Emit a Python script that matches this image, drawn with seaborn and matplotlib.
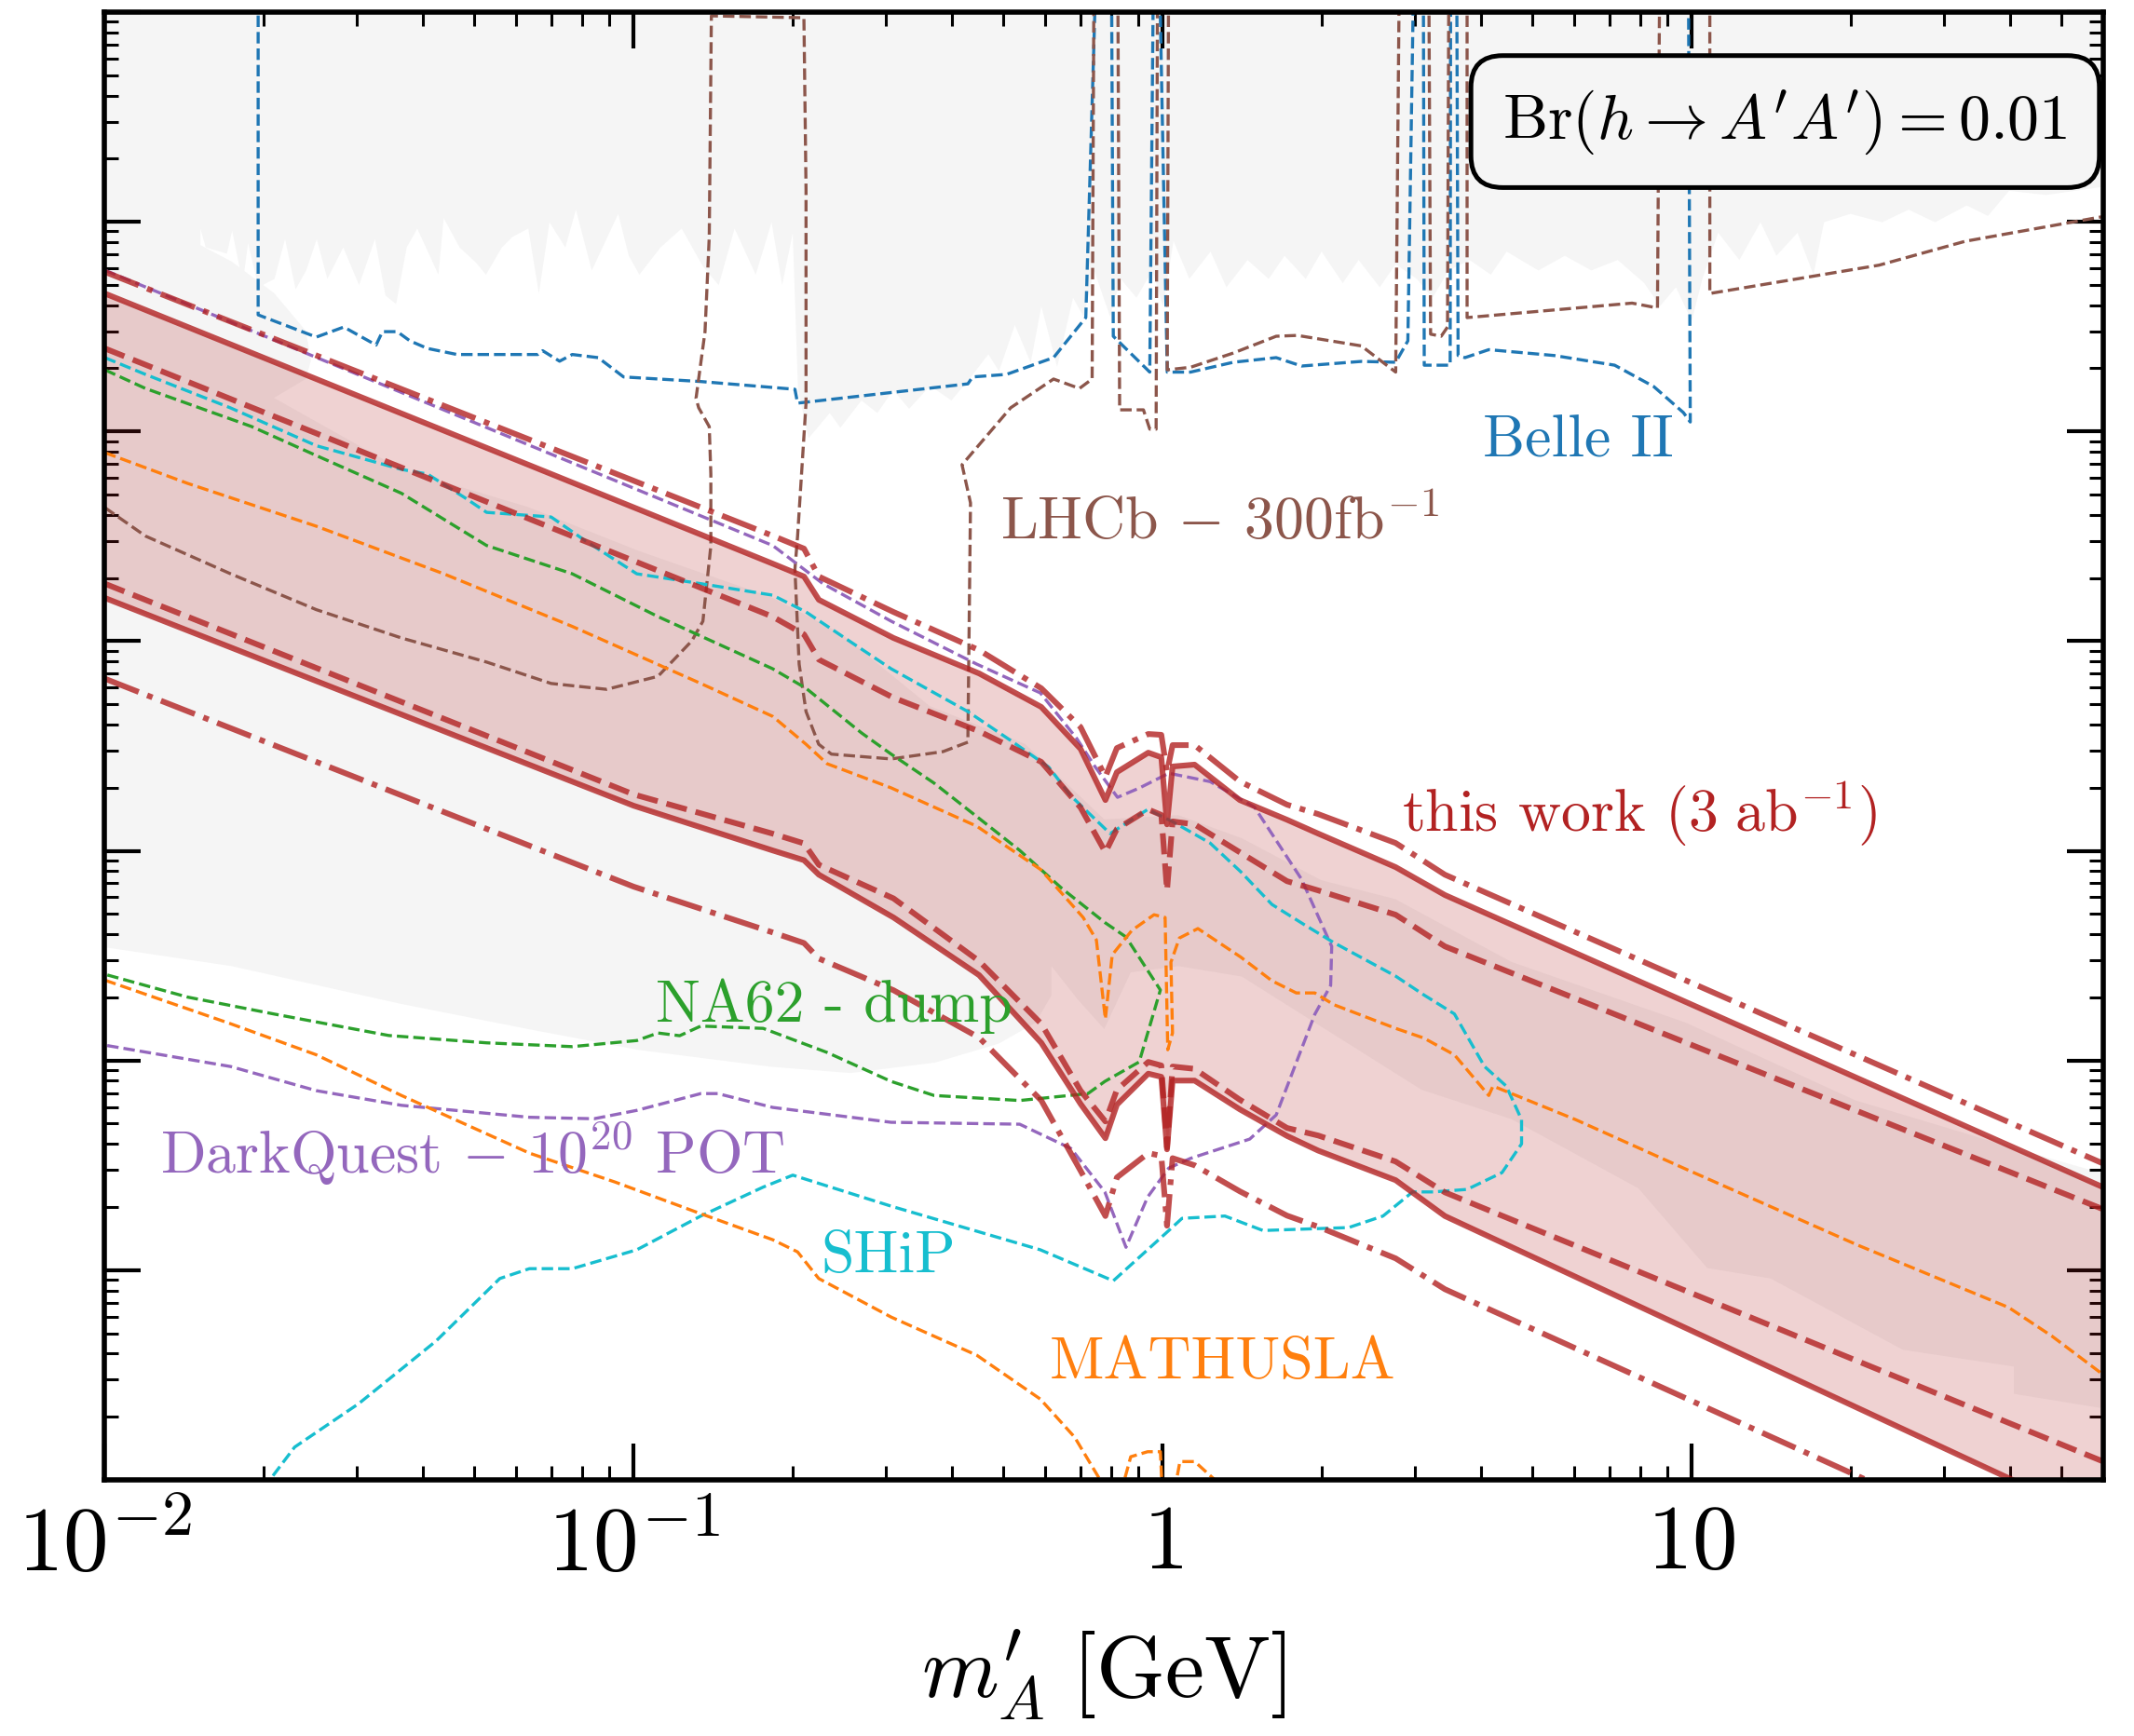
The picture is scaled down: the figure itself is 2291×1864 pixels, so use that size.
import numpy as np
import matplotlib
matplotlib.use("Agg")
import matplotlib.pyplot as plt
import seaborn as sns
from matplotlib.ticker import FixedLocator, FixedFormatter, LogLocator, NullFormatter

# ---------------- data: masses in GeV, couplings as log10(epsilon) ----------------
# this work: common mass grid for the six contours of the band
band_mass = [0.01, 0.1, 0.183, 0.21, 0.224, 0.31, 0.45, 0.59, 0.70, 0.78, 0.82,
             0.94, 0.995, 1.02, 1.045, 1.15, 1.4, 1.72, 1.97, 2.76, 3.42, 60.0]
band_dd_up = [-3.239, -4.235, -4.497, -4.559, -4.692, -4.861, -5.043, -5.225, -5.410, -5.647, -5.510,
              -5.443, -5.447, -5.625, -5.496, -5.496, -5.669, -5.780, -5.825, -5.963, -6.114, -7.491]
band_s_up = [-3.342, -4.362, -4.630, -4.692, -4.803, -4.985, -5.154, -5.314, -5.514, -5.758, -5.625,
             -5.532, -5.554, -5.874, -5.598, -5.589, -5.758, -5.852, -5.918, -6.078, -6.211, -7.604]
band_d_up = [-3.604, -4.617, -4.883, -4.968, -5.088, -5.270, -5.430, -5.576, -5.794, -6.007, -5.896,
             -5.803, -5.829, -6.189, -5.860, -5.874, -6.007, -6.145, -6.189, -6.305, -6.456, -7.709]
band_d_lo = [-4.726, -5.731, -5.918, -5.965, -6.067, -6.227, -6.526, -6.825, -7.144, -7.291, -7.140,
             -7.007, -7.024, -7.415, -7.029, -7.040, -7.187, -7.322, -7.358, -7.482, -7.629, -8.912]
band_s_lo = [-4.794, -5.785, -5.998, -6.045, -6.114, -6.318, -6.593, -6.916, -7.207, -7.371, -7.211,
             -7.063, -7.078, -7.424, -7.096, -7.096, -7.233, -7.360, -7.430, -7.571, -7.742, -9.201]
band_dd_lo = [-5.179, -6.171, -6.389, -6.440, -6.514, -6.665, -6.891, -7.191, -7.526, -7.742, -7.558,
              -7.442, -7.455, -7.788, -7.466, -7.500, -7.624, -7.740, -7.793, -7.944, -8.091, -9.511]

# existing bounds (shaded): lower edge of the prompt-search region, (log10 m, log10 eps)
prompt_edge = [(-2.00, -3.27), (-1.82, -3.27), (-1.82, -3.03), (-1.81, -3.12), (-1.77, -3.15),
               (-1.76, -3.04), (-1.74, -3.29), (-1.73, -3.10), (-1.71, -3.31), (-1.68, -3.27),
               (-1.66, -3.08), (-1.64, -3.32), (-1.62, -3.23), (-1.60, -3.08), (-1.58, -3.27),
               (-1.55, -3.12), (-1.52, -3.30), (-1.49, -3.08), (-1.47, -3.35), (-1.45, -3.39),
               (-1.43, -3.12), (-1.41, -3.03), (-1.37, -3.25), (-1.36, -2.98), (-1.33, -3.12),
               (-1.30, -3.19), (-1.28, -3.25), (-1.25, -3.12), (-1.23, -3.07), (-1.20, -3.03),
               (-1.18, -3.34), (-1.16, -3.00), (-1.13, -3.12), (-1.11, -2.94), (-1.08, -3.23),
               (-1.03, -2.96), (-1.01, -3.16), (-0.99, -3.25), (-0.95, -3.12), (-0.91, -3.03),
               (-0.87, -3.21), (-0.84, -3.30), (-0.81, -3.03), (-0.77, -3.25), (-0.74, -3.00),
               (-0.72, -3.30), (-0.70, -3.05), (-0.69, -3.80), (-0.67, -4.03), (-0.63, -3.91),
               (-0.61, -3.98), (-0.57, -3.85), (-0.54, -3.91), (-0.51, -3.80), (-0.48, -3.89),
               (-0.44, -3.78), (-0.40, -3.85), (-0.37, -3.76), (-0.33, -3.63), (-0.31, -3.71),
               (-0.28, -3.49), (-0.25, -3.67), (-0.23, -3.40), (-0.20, -3.69), (-0.17, -3.36),
               (-0.15, -3.45), (-0.13, -3.23), (-0.10, -3.45), (-0.08, -3.27), (-0.05, -3.36),
               (-0.02, -3.23), (0.00, -3.40), (0.02, -3.09), (0.05, -3.27), (0.09, -3.14),
               (0.12, -3.31), (0.16, -3.18), (0.20, -3.27), (0.23, -3.16), (0.27, -3.27),
               (0.30, -3.14), (0.34, -3.29), (0.37, -3.18), (0.41, -3.31), (0.44, -3.20),
               (0.48, -3.27), (0.51, -3.36), (0.54, -3.23), (0.58, -3.18), (0.62, -3.25),
               (0.65, -3.14), (0.71, -3.23), (0.76, -3.16), (0.81, -3.23), (0.86, -3.18),
               (0.91, -3.29), (0.94, -3.40), (0.97, -3.31), (1.00, -3.47), (1.02, -3.27),
               (1.05, -3.05), (1.09, -3.18), (1.13, -3.00), (1.16, -3.16), (1.20, -3.05),
               (1.23, -3.25), (1.25, -3.00), (1.30, -2.96), (1.36, -3.00), (1.41, -2.94),
               (1.46, -3.00), (1.52, -2.92), (1.56, -2.97), (1.60, -2.85), (1.67, -2.87),
               (1.78, -2.83)]

# existing bounds (shaded): beam-dump region outline
dump_region = [(-2.00, -3.00), (-1.82, -3.11), (-1.76, -3.19), (-1.68, -3.34), (-1.62, -3.52),
               (-1.61, -3.66), (-1.62, -3.75), (-1.68, -3.84), (-1.44, -4.18), (-1.20, -4.36),
               (-0.99, -4.57), (-0.74, -4.79), (-0.61, -4.96), (-0.44, -5.31), (-0.26, -5.49),
               (-0.11, -5.85), (0.03, -5.83), (0.15, -5.94), (0.30, -6.14), (0.44, -6.23),
               (0.66, -6.53), (0.99, -6.82), (1.31, -7.19), (1.64, -7.44), (1.78, -7.54),
               (1.78, -8.66), (1.61, -8.59), (1.61, -8.46), (1.40, -8.38), (1.15, -8.04),
               (1.03, -7.99), (0.90, -7.61), (0.66, -7.28), (0.49, -7.14), (0.32, -6.87),
               (0.15, -6.60), (0.03, -6.55), (-0.06, -6.58), (-0.11, -6.85), (-0.16, -6.71),
               (-0.21, -6.55), (-0.21, -6.69), (-0.24, -6.82), (-0.31, -6.92), (-0.43, -7.01),
               (-0.59, -7.06), (-0.74, -7.03), (-0.99, -6.95), (-1.20, -6.85), (-1.44, -6.73),
               (-1.76, -6.55), (-2.00, -6.46)]

# projections (log10 m, log10 eps); -1.5 marks contours leaving through the top
belle2 = [(-1.710, -1.5), (-1.710, -3.444), (-1.600, -3.550), (-1.548, -3.502), (-1.487, -3.588),
          (-1.475, -3.524), (-1.447, -3.524), (-1.423, -3.568), (-1.390, -3.604), (-1.334, -3.633),
          (-1.181, -3.633), (-1.172, -3.615), (-1.140, -3.665), (-1.116, -3.633), (-1.067, -3.648),
          (-1.019, -3.740), (-0.873, -3.762), (-0.695, -3.799), (-0.690, -3.865), (-0.368, -3.773),
          (-0.359, -3.740), (-0.295, -3.728), (-0.206, -3.648), (-0.145, -3.457), (-0.122, -1.5),
          (-0.097, -1.5), (-0.093, -3.546), (-0.024, -3.717), (-0.016, -1.5), (-0.008, -1.5),
          (0.009, -3.717), (0.053, -3.717), (0.134, -3.670), (0.215, -3.648), (0.263, -3.688),
          (0.376, -3.666), (0.441, -3.670), (0.464, -3.568), (0.477, -1.5), (0.493, -1.5),
          (0.495, -3.684), (0.544, -3.684), (0.545, -1.5), (0.556, -1.5), (0.559, -3.638),
          (0.572, -3.648), (0.617, -3.610), (0.741, -3.638), (0.855, -3.684), (0.929, -3.786),
          (0.985, -3.910), (0.998, -3.955), (0.994, -1.5)]

lhcb = [(-2.000, -4.363), (-1.923, -4.499), (-1.762, -4.679), (-1.600, -4.850), (-1.439, -4.985),
        (-1.278, -5.100), (-1.156, -5.202), (-1.051, -5.230), (-0.954, -5.168), (-0.890, -4.999),
        (-0.869, -4.905), (-0.854, -4.546), (-0.854, -4.203), (-0.857, -3.977), (-0.877, -3.887),
        (-0.882, -3.842), (-0.865, -3.524), (-0.857, -3.071), (-0.853, -2.018), (-0.678, -2.027),
        (-0.674, -2.844), (-0.674, -3.865), (-0.690, -4.501), (-0.695, -4.657), (-0.687, -5.110),
        (-0.674, -5.336), (-0.650, -5.492), (-0.626, -5.539), (-0.513, -5.562), (-0.415, -5.527),
        (-0.368, -5.482), (-0.363, -4.341), (-0.379, -4.159), (-0.287, -3.887), (-0.206, -3.750),
        (-0.157, -3.795), (-0.133, -3.750), (-0.129, -1.5), (-0.085, -1.5), (-0.081, -3.897),
        (-0.036, -3.897), (-0.024, -3.989), (-0.012, -3.989), (-0.009, -1.5), (0.012, -1.5),
        (0.009, -3.706), (0.053, -3.694), (0.134, -3.626), (0.215, -3.546), (0.255, -3.542),
        (0.376, -3.592), (0.441, -3.717), (0.449, -1.5), (0.503, -1.5), (0.507, -3.536),
        (0.527, -3.546), (0.539, -3.502), (0.542, -1.5), (0.576, -1.5), (0.576, -3.457),
        (0.888, -3.388), (0.936, -3.411), (0.941, -1.5), (1.035, -1.5), (1.035, -3.342),
        (1.355, -3.207), (1.518, -3.093), (1.779, -2.975)]

darkquest = [(-2.000, -3.231), (-0.737, -4.544), (-0.642, -4.726), (-0.513, -4.905), (-0.351, -5.110),
             (-0.231, -5.247), (-0.162, -5.465), (-0.127, -5.601), (-0.085, -5.745), (-0.044, -5.701),
             (0.012, -5.630), (0.090, -5.670), (0.174, -5.792), (0.263, -6.136), (0.320, -6.456),
             (0.318, -6.642), (0.288, -6.780), (0.215, -7.260), (0.165, -7.375), (0.053, -7.467),
             (0.012, -7.513), (-0.028, -7.651), (-0.069, -7.891), (-0.109, -7.627), (-0.173, -7.420),
             (-0.270, -7.304), (-0.513, -7.295), (-0.737, -7.224), (-0.841, -7.158), (-0.873, -7.158),
             (-0.994, -7.238), (-1.075, -7.278), (-1.197, -7.271), (-1.439, -7.214), (-1.600, -7.144),
             (-1.762, -7.029), (-2.000, -6.927)]

na62 = [(-2.000, -3.706), (-1.923, -3.795), (-1.722, -3.977), (-1.600, -4.115), (-1.439, -4.295),
        (-1.278, -4.544), (-1.116, -4.679), (-0.954, -4.883), (-0.737, -5.132), (-0.674, -5.225),
        (-0.569, -5.438), (-0.513, -5.539), (-0.432, -5.677), (-0.351, -5.837), (-0.270, -5.998),
        (-0.190, -6.180), (-0.109, -6.342), (-0.069, -6.411), (-0.004, -6.664), (-0.044, -7.007),
        (-0.109, -7.100), (-0.141, -7.158), (-0.270, -7.191), (-0.432, -7.167), (-0.513, -7.100),
        (-0.634, -6.962), (-0.755, -6.847), (-0.873, -6.836), (-0.913, -6.882), (-0.954, -6.869),
        (-0.994, -6.905), (-1.116, -6.934), (-1.278, -6.916), (-1.463, -6.881), (-1.681, -6.778),
        (-1.843, -6.698), (-2.000, -6.589)]

ship = [(-2.000, -3.648), (-1.923, -3.728), (-1.762, -3.888), (-1.600, -4.068), (-1.439, -4.181),
        (-1.390, -4.203), (-1.318, -4.318), (-1.278, -4.386), (-1.156, -4.408), (-1.091, -4.522),
        (-0.994, -4.679), (-0.873, -4.726), (-0.737, -4.781), (-0.674, -4.861), (-0.593, -4.998),
        (-0.513, -5.132), (-0.368, -5.336), (-0.287, -5.474), (-0.215, -5.601), (-0.174, -5.736),
        (-0.099, -5.918), (-0.028, -5.803), (0.019, -5.861), (0.090, -5.963), (0.148, -6.100),
        (0.207, -6.256), (0.266, -6.349), (0.324, -6.438), (0.441, -6.598), (0.494, -6.687),
        (0.552, -6.778), (0.609, -7.029), (0.650, -7.122), (0.679, -7.282), (0.679, -7.398),
        (0.642, -7.535), (0.576, -7.615), (0.512, -7.627), (0.473, -7.627), (0.417, -7.742),
        (0.352, -7.797), (0.190, -7.811), (0.118, -7.742), (0.037, -7.753), (0.012, -7.811),
        (-0.093, -8.051), (-0.231, -7.903), (-0.513, -7.695), (-0.699, -7.547), (-0.755, -7.604),
        (-0.873, -7.742), (-0.994, -7.903), (-1.116, -7.993), (-1.197, -7.993), (-1.253, -8.040),
        (-1.374, -8.339), (-1.520, -8.637), (-1.641, -8.844), (-1.689, -9.004), (-1.720, -9.150)]

mathusla_hi = [(-2.000, -4.101), (-1.843, -4.248), (-1.600, -4.452), (-1.359, -4.679), (-1.116, -4.930),
               (-0.873, -5.202), (-0.737, -5.359), (-0.674, -5.492), (-0.634, -5.585), (-0.513, -5.700),
               (-0.351, -5.883), (-0.230, -6.090), (-0.150, -6.318), (-0.125, -6.425), (-0.108, -6.802),
               (-0.095, -6.496), (-0.058, -6.380), (-0.016, -6.305), (0.005, -6.318), (0.010, -6.949),
               (0.019, -6.869), (0.016, -6.531), (0.032, -6.416), (0.067, -6.371), (0.148, -6.507),
               (0.207, -6.620), (0.253, -6.678), (0.288, -6.678), (0.324, -6.734), (0.441, -6.847),
               (0.494, -6.893), (0.552, -6.973), (0.617, -7.167), (0.625, -7.122), (0.781, -7.282),
               (0.985, -7.513), (1.314, -7.880), (1.600, -8.178), (1.682, -8.315), (1.779, -8.499)]

mathusla_lo = [(-2.000, -6.617), (-1.762, -6.825), (-1.600, -6.973), (-1.439, -7.167), (-1.197, -7.442),
               (-1.035, -7.580), (-0.873, -7.731), (-0.737, -7.855), (-0.690, -7.913), (-0.650, -8.040),
               (-0.513, -8.224), (-0.351, -8.406), (-0.231, -8.615), (-0.166, -8.797), (-0.117, -9.004),
               (-0.104, -9.130), (-0.086, -9.130), (-0.060, -8.890), (-0.028, -8.866), (-0.004, -8.866),
               (0.001, -9.130), (0.017, -9.130), (0.033, -8.913), (0.061, -8.913), (0.109, -9.023),
               (0.125, -9.130)]

x_ticks = [0.01, 0.1, 1, 10]
x_tick_labels = [r"$10^{-2}$", r"$10^{-1}$", r"$1$", r"$10$"]

# ---------------- style ----------------
sns.set_theme(style="ticks")
plt.rcParams.update({
    "font.family": "serif",
    "font.serif": ["cmr10", "DejaVu Serif"],
    "mathtext.fontset": "cm",
    "axes.formatter.use_mathtext": True,
    "axes.edgecolor": "black",
    "xtick.color": "black",
    "ytick.color": "black",
    "text.color": "black",
    "axes.labelcolor": "black",
})

C_BELLE, C_LHCB, C_NA62 = "#1f77b4", "#8c564b", "#2ca02c"
C_DQ, C_SHIP, C_MATH = "#9467bd", "#17becf", "#ff7f0e"
C_WORK = "firebrick"
SHADE = "whitesmoke"

fig = plt.figure(figsize=(2291 / 200, 1865 / 200), dpi=200)
ax = fig.add_axes([0.0491, 0.1475, 0.9363, 0.8450])
ax.set_xscale("log")
ax.set_yscale("log")
ax.set_xlim(0.01, 60)
ax.set_ylim(1e-9, 1e-2)


def pts(seq):
    a = np.asarray(seq, dtype=float)
    return 10 ** a[:, 0], 10 ** a[:, 1]


def trace(seq, **kw):
    x, y = pts(seq)
    sns.lineplot(x=x, y=y, sort=False, estimator=None, legend=False, ax=ax, **kw)


# shaded existing bounds
px, py = pts(prompt_edge)
ax.fill_between(px, py, 1e-2, color=SHADE, lw=0, zorder=0)
dx, dy = pts(dump_region)
ax.fill(dx, dy, color=SHADE, lw=0, zorder=0)

# this work: band
bm = np.asarray(band_mass)
ax.fill_between(bm, 10 ** np.asarray(band_s_lo), 10 ** np.asarray(band_s_up),
                color=C_WORK, alpha=0.2, lw=0, zorder=1)

# projections
thin = dict(lw=1.2, linestyle="--", zorder=2)
trace(belle2, color=C_BELLE, **thin)
trace(lhcb, color=C_LHCB, **thin)
trace(darkquest, color=C_DQ, **thin)
trace(na62, color=C_NA62, **thin)
trace(ship, color=C_SHIP, **thin)
trace(mathusla_hi, color=C_MATH, **thin)
trace(mathusla_lo, color=C_MATH, **thin)

# this work: contours
for arr, ls in [(band_dd_up, "-."), (band_s_up, "-"), (band_d_up, "--"),
                (band_d_lo, "--"), (band_s_lo, "-"), (band_dd_lo, "-.")]:
    sns.lineplot(x=bm, y=10 ** np.asarray(arr), sort=False, estimator=None, legend=False,
                 ax=ax, color=C_WORK, alpha=0.8, lw=2.2, linestyle=ls, zorder=3)

# labels
fs = 23
ax.text(4.03, 7.67e-5, "Belle II", color=C_BELLE, fontsize=fs)
ax.text(0.494, 3.09e-5, r"LHCb $-$ 300fb$^{-1}$", color=C_LHCB, fontsize=fs)
ax.text(2.83, 1.245e-6, r"this work $(3\ \mathrm{ab}^{-1})$", color=C_WORK, fontsize=fs)
ax.text(0.110, 1.545e-7, "NA62 - dump", color=C_NA62, fontsize=fs)
ax.text(0.01273, 2.92e-8, r"DarkQuest $-$ $10^{20}$ POT", color=C_DQ, fontsize=fs)
ax.text(0.226, 9.86e-9, "SHiP", color=C_SHIP, fontsize=fs)
ax.text(0.611, 3.07e-9, "MATHUSLA", color=C_MATH, fontsize=fs)

ax.text(0.841, 0.9254, r"$\mathrm{Br}(h \rightarrow A^{\prime}A^{\prime}) = 0.01$",
        transform=ax.transAxes, ha="center", va="center", fontsize=24.5, zorder=5,
        bbox=dict(boxstyle="round,pad=0.5,rounding_size=0.5", fc="whitesmoke",
                  ec="black", lw=1.8))

# axes & ticks
ax.xaxis.set_major_locator(FixedLocator(x_ticks))
ax.xaxis.set_major_formatter(FixedFormatter(x_tick_labels))
ax.xaxis.set_minor_locator(LogLocator(base=10, subs=np.arange(2, 10), numticks=30))
ax.xaxis.set_minor_formatter(NullFormatter())
ax.yaxis.set_major_locator(LogLocator(base=10, numticks=30))
ax.yaxis.set_minor_locator(LogLocator(base=10, subs=np.arange(2, 10), numticks=30))
ax.yaxis.set_minor_formatter(NullFormatter())
ax.tick_params(which="both", direction="in", top=True, right=True, bottom=True, left=True)
ax.tick_params(which="major", length=14, width=1.5, labelsize=35, pad=9.5)
ax.tick_params(which="minor", length=5.5, width=1.1)
ax.tick_params(axis="y", labelleft=False)
for sp in ax.spines.values():
    sp.set_linewidth(2.0)
    sp.set_color("black")
    sp.set_zorder(6)

ax.set_xlabel(r"$m^{\prime}_{A}\;[\mathrm{GeV}]$", fontsize=34, labelpad=15)
ax.set_ylabel("")

fig.savefig("out.png", dpi=200)
